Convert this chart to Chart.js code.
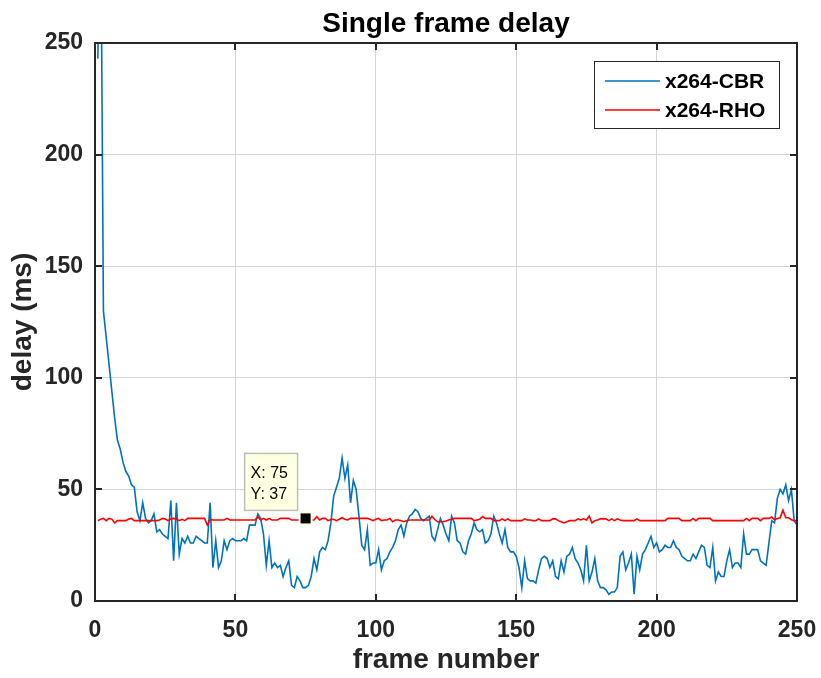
<!DOCTYPE html>
<html>
<head>
<meta charset="utf-8">
<title>Single frame delay</title>
<script src="https://cdn.jsdelivr.net/npm/chart.js@4"></script>
<style>
    html, body { margin: 0; padding: 0; background: #fff; }
    #delay-chart { display: block; }
</style>
</head>
<body>
<canvas id="delay-chart" width="821" height="678"></canvas>
<script>
// Values, one per frame (frame 1 .. 250)
const cbrDelay = [
    243, 320, 130, 118, 106, 94, 82, 72, 68, 62,
    58, 56, 52, 51, 40, 36, 44, 37, 35, 36,
    39, 31, 32, 30, 29, 28, 45, 18, 44, 21,
    28, 26, 29, 26, 26, 29, 28, 27, 26, 26,
    44, 15, 27, 15, 18, 27, 23, 27, 28, 27,
    27, 27, 28, 27, 34, 34, 34, 39, 37, 30,
    16, 27, 15, 17, 15, 16, 11, 15, 18, 7,
    6, 11, 9, 6, 6, 7, 11, 19, 14, 22,
    24, 23, 27, 35, 47, 51, 55, 64, 55, 61,
    44, 54, 50, 38, 25, 23, 32, 16, 17, 17,
    23, 14, 18, 19, 22, 24, 27, 32, 34, 29,
    35, 38, 39, 41, 40, 37, 36, 37, 38, 29,
    27, 32, 37, 34, 30, 27, 38, 35, 27, 26,
    22, 21, 27, 30, 35, 32, 31, 32, 26, 27,
    30, 38, 35, 30, 26, 32, 24, 22, 22, 20,
    15, 6, 18, 10, 9, 9, 8, 14, 19, 20,
    19, 15, 18, 11, 10, 18, 13, 20, 21, 24,
    19, 17, 14, 9, 25, 9, 13, 19, 9, 6,
    6, 5, 3, 4, 4, 6, 20, 22, 14, 17,
    21, 3, 20, 14, 21, 23, 26, 29, 24, 26,
    22, 23, 25, 24, 24, 27, 24, 23, 20, 19,
    18, 18, 21, 19, 22, 25, 24, 16, 15, 24,
    9, 13, 11, 11, 18, 23, 15, 17, 17, 15,
    30, 21, 21, 23, 23, 23, 18, 17, 16, 26,
    36, 35, 46, 50, 48, 52, 45, 50, 36, 34
];

const rhoDelay = [
    36, 36.6, 37, 36, 37, 36.7, 35, 36, 36, 36,
    36, 36.7, 37, 36, 36, 36, 36, 36, 36, 36,
    36, 36, 36.3, 37, 36.7, 36, 36.7, 37, 36.7, 36,
    36.6, 36, 37, 37, 37, 37, 37, 37, 37, 34,
    36.6, 36.3, 36.3, 36.3, 36.3, 36.3, 37, 36.3, 36.3, 36.3,
    36.3, 36.3, 36.3, 36.3, 36.3, 36.3, 36.3, 37.8, 36.3, 37,
    36.3, 37, 36.3, 36.3, 36.3, 37, 37, 37, 37, 36.3,
    36.3, 36.3, 36.3, 37, 37, 37, 36.3, 36.3, 37.8, 36.3,
    37, 37, 36, 36.5, 36.6, 36, 36.6, 37.3, 36.6, 36.3,
    37, 37, 37, 37, 37, 37, 37, 36.6, 36, 36.6,
    37, 36, 36.3, 36.3, 37, 35.5, 36.3, 36.3, 36, 35.5,
    36, 36.3, 36.3, 36.3, 36.3, 36.3, 36.3, 36.3, 36.3, 38,
    36.5, 35.5, 35.5, 35.5, 35.8, 36.3, 36.6, 37, 37, 37,
    37, 37, 37, 37, 36, 36.3, 36.6, 37.8, 37, 37,
    37, 36, 36, 36, 36.8, 36, 36.8, 36, 36, 36,
    36, 36, 36.8, 36.3, 36.3, 36, 36, 36.8, 36, 36,
    36, 36, 36.8, 36.8, 36, 35.5, 35, 35.5, 36, 36,
    36, 36.8, 36.3, 36.8, 36.3, 38, 35, 36, 36.3, 36.8,
    36.8, 36.8, 36, 36.8, 36, 36.8, 36.3, 36, 36, 36,
    36, 36, 36.8, 36, 36, 36, 36, 36, 36, 36,
    36, 36, 36, 37, 37, 37, 37, 37, 36, 36,
    36, 36, 37, 36, 37, 37, 37, 37, 37, 36,
    36, 36, 36, 36, 36, 36, 36, 36, 36, 36,
    36, 37, 36, 37, 37, 37, 36, 37, 37, 37,
    37.6, 36.4, 37, 37.3, 40.7, 37.3, 37.3, 36.4, 36, 36
];

const frames = cbrDelay.map((_, i) => i + 1);
const seriesLabels = ['x264-CBR', 'x264-RHO'];
const xTickValues = [0, 50, 100, 150, 200, 250];
const yTickValues = [0, 50, 100, 150, 200, 250];
const markerFrame = 75;

const FONT = '"Liberation Sans", Arial, Helvetica, sans-serif';
const AXIS_COLOR = '#262626';

// MATLAB style box, inward ticks, title, legend and the data tip
const matlabDecor = {
    id: 'matlabDecor',
    afterDatasetsDraw(chart) {
        const { ctx, chartArea: a, scales: { x, y } } = chart;
        ctx.save();

        // Inward ticks on all four sides
        ctx.strokeStyle = AXIS_COLOR;
        ctx.lineWidth = 2;
        ctx.beginPath();
        xTickValues.forEach(v => {
            const px = Math.round(x.getPixelForValue(v));
            ctx.moveTo(px, a.bottom); ctx.lineTo(px, a.bottom - 7);
            ctx.moveTo(px, a.top); ctx.lineTo(px, a.top + 7);
        });
        yTickValues.forEach(v => {
            const py = Math.round(y.getPixelForValue(v));
            ctx.moveTo(a.left, py); ctx.lineTo(a.left + 7, py);
            ctx.moveTo(a.right, py); ctx.lineTo(a.right - 7, py);
        });
        ctx.stroke();

        // Axes box
        ctx.strokeRect(a.left, a.top, a.right - a.left, a.bottom - a.top);

        // Title
        ctx.fillStyle = '#000';
        ctx.font = 'bold 28px ' + FONT;
        ctx.textAlign = 'center';
        ctx.textBaseline = 'alphabetic';
        ctx.fillText('Single frame delay', (a.left + a.right) / 2, 32);

        // Legend
        const lx = a.right - 203, ly = a.top + 18, lw = 185, lh = 67;
        ctx.fillStyle = '#fff';
        ctx.fillRect(lx, ly, lw, lh);
        ctx.strokeStyle = '#262626';
        ctx.lineWidth = 1;
        ctx.strokeRect(lx + 0.5, ly + 0.5, lw, lh);
        ctx.font = 'bold 21px ' + FONT;
        ctx.textAlign = 'left';
        ctx.textBaseline = 'middle';
        chart.data.datasets.forEach((ds, i) => {
            const rowY = ly + 20 + i * 29;
            ctx.strokeStyle = ds.borderColor;
            ctx.lineWidth = 1.6;
            ctx.beginPath();
            ctx.moveTo(lx + 11, rowY);
            ctx.lineTo(lx + 66, rowY);
            ctx.stroke();
            ctx.fillStyle = '#000';
            ctx.fillText(ds.label, lx + 71, rowY + 1);
        });

        // Data tip on the RHO series
        const mx = x.getPixelForValue(markerFrame);
        const my = y.getPixelForValue(rhoDelay[markerFrame - 1]);
        ctx.fillStyle = '#ffffe1';
        ctx.fillRect(mx - 7, my - 7, 14, 14);
        ctx.fillStyle = '#000';
        ctx.fillRect(mx - 5, my - 5, 10, 10);

        const bx = mx - 61, by = my - 65, bw = 53, bh = 57;
        ctx.fillStyle = '#ffffe1';
        ctx.fillRect(bx, by, bw, bh);
        ctx.strokeStyle = '#bdbdbd';
        ctx.lineWidth = 1.5;
        ctx.strokeRect(bx, by, bw, bh);
        ctx.fillStyle = '#000';
        ctx.font = '16px ' + FONT;
        ctx.textBaseline = 'alphabetic';
        ctx.fillText('X: ' + markerFrame, bx + 6, my - 40);
        ctx.fillText('Y: ' + Math.round(rhoDelay[markerFrame - 1]), bx + 6, my - 19);

        ctx.restore();
    }
};

const ctx = document.getElementById('delay-chart').getContext('2d');
const delayChart = new Chart(ctx, {
    type: 'line',
    data: {
        labels: frames,
        datasets: [
            {
                label: seriesLabels[0],
                data: frames.map((f, i) => ({ x: f, y: cbrDelay[i] })),
                borderColor: '#0072BD',
                borderWidth: 1.6,
                pointRadius: 0,
                tension: 0,
                order: 2
            },
            {
                label: seriesLabels[1],
                data: frames.map((f, i) => ({ x: f, y: rhoDelay[i] })),
                borderColor: '#FF0000',
                borderWidth: 1.6,
                pointRadius: 0,
                tension: 0,
                order: 1
            }
        ]
    },
    options: {
        responsive: false,
        animation: false,
        layout: { padding: { top: 43, right: 24, left: 0, bottom: 0 } },
        plugins: {
            legend: { display: false },
            title: { display: false },
            tooltip: { enabled: false }
        },
        scales: {
            x: {
                type: 'linear',
                min: 0,
                max: 250,
                afterBuildTicks: scale => { scale.ticks = xTickValues.map(v => ({ value: v })); },
                afterFit: scale => {
                    scale.height = 77;
                    scale.paddingLeft = 0;
                    scale.paddingRight = 0;
                },
                grid: { color: '#d4d4d4', lineWidth: 1, drawTicks: false },
                border: { display: false },
                ticks: {
                    padding: 16,
                    color: AXIS_COLOR,
                    font: { family: FONT, size: 23, weight: 'bold' },
                    maxRotation: 0
                },
                title: {
                    display: true,
                    text: 'frame number',
                    color: AXIS_COLOR,
                    font: { family: FONT, size: 28, weight: 'bold' },
                    padding: { top: 0, bottom: 1 }
                }
            },
            y: {
                type: 'linear',
                min: 0,
                max: 250,
                afterBuildTicks: scale => { scale.ticks = yTickValues.map(v => ({ value: v })); },
                afterFit: scale => {
                    scale.width = 95;
                    scale.paddingTop = 0;
                    scale.paddingBottom = 0;
                },
                grid: { color: '#d4d4d4', lineWidth: 1, drawTicks: false },
                border: { display: false },
                ticks: {
                    padding: 12,
                    color: AXIS_COLOR,
                    font: { family: FONT, size: 23, weight: 'bold' }
                },
                title: {
                    display: true,
                    text: 'delay (ms)',
                    color: AXIS_COLOR,
                    font: { family: FONT, size: 28, weight: 'bold' },
                    padding: { top: 6, bottom: 0 }
                }
            }
        }
    },
    plugins: [matlabDecor]
});
</script>
</body>
</html>
